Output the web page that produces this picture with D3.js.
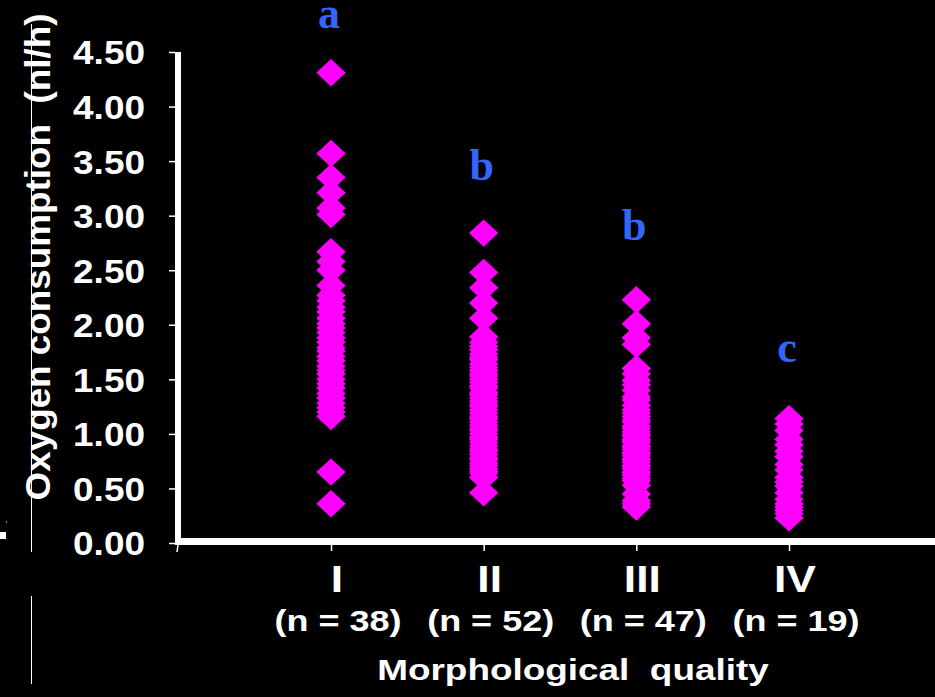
<!DOCTYPE html>
<html>
<head>
<meta charset="utf-8">
<script src="https://cdn.jsdelivr.net/npm/d3@7"></script>
<style>
  html, body { margin: 0; padding: 0; background: #000; }
  svg { display: block; }
</style>
</head>
<body>
<div id="chart"></div>
<script>
// quality classes, group sizes and significance letters
const categories = ["I", "II", "III", "IV"];
const groupN = [38, 52, 47, 19];
const sigLetters = ["a", "b", "b", "c"];
const sigLevel = [4.72, 3.33, 2.78, 1.66];   // letter baseline, nl/h
const yTicks = [0, 0.5, 1, 1.5, 2, 2.5, 3, 3.5, 4, 4.5];

// oxygen consumption per embryo (nl/h)
const valuesI = [4.31, 3.57, 3.35, 3.21, 3.07, 3.01, 2.67, 2.58, 2.50, 2.36, 2.27, 2.22, 2.16, 2.12,
  2.06, 2.01, 1.97, 1.93, 1.88, 1.84, 1.79, 1.76, 1.71, 1.67, 1.62, 1.58, 1.55, 1.50, 1.46, 1.42,
  1.37, 1.33, 1.28, 1.24, 1.20, 1.16, 0.65, 0.36];
const valuesII = [2.84, 2.48, 2.34, 2.20, 2.06, 1.89, 1.84, 1.80, 1.77, 1.73, 1.70, 1.68, 1.64, 1.61,
  1.58, 1.55, 1.53, 1.50, 1.47, 1.44, 1.42, 1.38, 1.36, 1.33, 1.30, 1.27, 1.25, 1.22, 1.19, 1.16,
  1.14, 1.11, 1.08, 1.05, 1.03, 1.00, 0.97, 0.95, 0.92, 0.89, 0.86, 0.84, 0.81, 0.78, 0.76, 0.73,
  0.71, 0.68, 0.66, 0.64, 0.60, 0.46];
const valuesIII = [2.23, 2.01, 1.88, 1.82, 1.60, 1.55, 1.49, 1.45, 1.40, 1.34, 1.31, 1.26, 1.22, 1.19,
  1.16, 1.13, 1.11, 1.07, 1.05, 1.02, 1.00, 0.98, 0.95, 0.94, 0.92, 0.89, 0.88, 0.86, 0.83, 0.82,
  0.80, 0.77, 0.76, 0.74, 0.71, 0.70, 0.68, 0.65, 0.64, 0.62, 0.59, 0.57, 0.53, 0.45, 0.39, 0.36, 0.33];
const valuesIV = [1.14, 1.09, 1.03, 0.95, 0.90, 0.84, 0.79, 0.72, 0.67, 0.60, 0.56, 0.52, 0.46, 0.40,
  0.36, 0.33, 0.30, 0.27, 0.23];
const groups = [valuesI, valuesII, valuesIII, valuesIV];

const width = 935, height = 697;
const sans = "'Liberation Sans', Arial, sans-serif";
const serif = "'Liberation Serif', 'Times New Roman', serif";

const svg = d3.select("#chart").append("svg")
    .attr("width", width).attr("height", height)
    .style("background", "#000");

const x = d3.scalePoint().domain(categories).range([331, 789]);
const y = d3.scaleLinear().domain([0, 4.5]).range([543, 52]);

// glyphs in the source are drawn a bit wide
function stretch(sel, k) {
    sel.each(function () {
        const w = this.getComputedTextLength();
        this.setAttribute("textLength", w * k);
        this.setAttribute("lengthAdjust", "spacingAndGlyphs");
    });
}

// stray guide lines from the original slide
const deco = svg.append("g").attr("stroke", "#fff").attr("stroke-width", 1);
deco.append("line").attr("x1", 31.5).attr("x2", 31.5).attr("y1", 24).attr("y2", 552);
deco.append("line").attr("x1", 31.5).attr("x2", 31.5).attr("y1", 596).attr("y2", 684);
svg.append("rect").attr("x", 0).attr("y", 532).attr("width", 6).attr("height", 7).attr("fill", "#fff");
svg.append("rect").attr("x", 6).attr("y", 521.5).attr("width", 1).attr("height", 1).attr("fill", "#fff");

// y axis (ticks and labels from d3, heavy spine drawn as a rect)
const yAxis = svg.append("g")
    .attr("transform", "translate(175,0)")
    .call(d3.axisLeft(y).tickValues(yTicks).tickFormat(d3.format(".2f"))
        .tickSize(6).tickSizeOuter(0).tickPadding(24));
yAxis.select(".domain").remove();
yAxis.selectAll(".tick line").attr("stroke", "#fff").attr("stroke-width", 1.5);
yAxis.selectAll(".tick text")
    .attr("fill", "#fff")
    .style("font-family", sans).style("font-weight", "bold").style("font-size", "33px")
    .attr("dy", "0.36em")
    .call(stretch, 1.12);
svg.append("rect")
    .attr("x", 175).attr("y", y(4.5))
    .attr("width", 6).attr("height", y(0) + 2 - y(4.5))
    .attr("fill", "#fff");

// x axis: heavy base line plus small ticks
svg.append("rect")
    .attr("x", 175).attr("y", y(0) - 5)
    .attr("width", width - 175).attr("height", 7)
    .attr("fill", "#fff");
const xAxis = svg.append("g")
    .attr("transform", `translate(0,${y(0) + 2})`)
    .call(d3.axisBottom(x).tickSize(6).tickFormat(""));
xAxis.select(".domain").remove();
xAxis.selectAll(".tick line").attr("stroke", "#fff").attr("stroke-width", 1.5);
svg.append("line")
    .attr("x1", 178).attr("x2", 177).attr("y1", y(0) + 2).attr("y2", y(0) + 9)
    .attr("stroke", "#fff").attr("stroke-width", 1.5);

// diamonds
const points = groups.flatMap((vals, i) => vals.map(v => ({ cat: categories[i], v })));
const diamond = "M0,-13.7L14.7,0L0,13.7L-14.7,0Z";
svg.append("g").selectAll("path")
    .data(points)
    .join("path")
    .attr("d", diamond)
    .attr("transform", d => `translate(${x(d.cat)},${y(d.v)})`)
    .attr("fill", "#ff00ff");

// significance letters
svg.append("g").selectAll("text")
    .data(categories)
    .join("text")
    .attr("x", d => x(d) - 2)
    .attr("y", (d, i) => y(sigLevel[i]))
    .attr("text-anchor", "middle")
    .attr("fill", "#3366ff")
    .style("font-family", serif).style("font-weight", "bold").style("font-size", "44px")
    .text((d, i) => sigLetters[i]);

// category labels
svg.append("g").selectAll("text")
    .data(categories)
    .join("text")
    .attr("x", d => x(d) + 6)
    .attr("y", 592)
    .attr("text-anchor", "middle")
    .attr("fill", "#fff")
    .style("font-family", sans).style("font-weight", "bold").style("font-size", "37px")
    .text(d => d)
    .call(stretch, 1.2);

svg.append("g").selectAll("text")
    .data(categories)
    .join("text")
    .attr("x", d => x(d) + 7)
    .attr("y", 631)
    .attr("text-anchor", "middle")
    .attr("fill", "#fff")
    .style("font-family", sans).style("font-weight", "bold").style("font-size", "30px")
    .style("white-space", "pre")
    .text((d, i) => `(n = ${groupN[i]})`)
    .call(stretch, 1.2);

// axis titles
svg.append("text")
    .attr("x", 573).attr("y", 680)
    .attr("text-anchor", "middle")
    .attr("fill", "#fff")
    .style("font-family", sans).style("font-weight", "bold").style("font-size", "30px")
    .style("white-space", "pre")
    .text("Morphological  quality")
    .call(stretch, 1.23);

svg.append("text")
    .attr("transform", "translate(50,257) rotate(-90)")
    .attr("text-anchor", "middle")
    .attr("fill", "#fff")
    .style("font-family", sans).style("font-weight", "bold").style("font-size", "35px")
    .style("white-space", "pre")
    .text("Oxygen consumption  (nl/h)")
    .attr("textLength", 487).attr("lengthAdjust", "spacingAndGlyphs");
</script>
</body>
</html>
